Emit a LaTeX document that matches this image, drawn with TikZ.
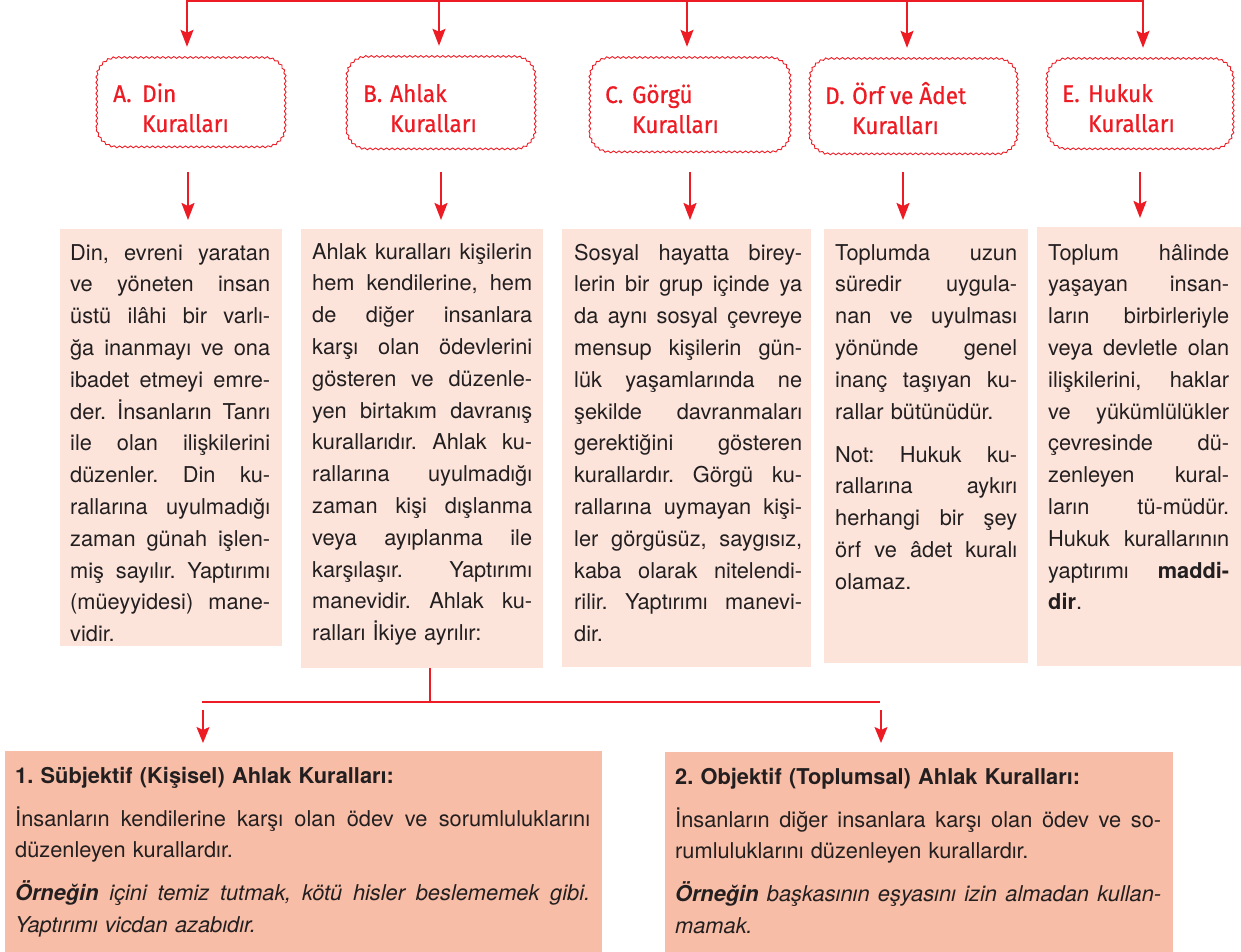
\documentclass[tikz,border=0pt]{standalone}
\usepackage{fontspec}
\setmainfont{TeX Gyre Heros}
\newfontfamily\hfont{Fira Sans}[FakeBold=0.6,FakeStretch=0.94]
\usetikzlibrary{decorations.pathmorphing,arrows.meta}
\definecolor{kred}{HTML}{ED1C24}
\definecolor{kpink}{HTML}{FCE4DB}
\definecolor{ksalmon}{HTML}{F8BDA6}
\definecolor{ktext}{HTML}{231F20}
\def\colw{200pt}
\newcommand\jl[1]{\hbox to \colw{\spaceskip=0.278em plus 1fil\relax #1}\par}
\newcommand\lastl[1]{\hbox{#1}\par}
\newcommand\pgap{\vspace{11.2pt}}
\frenchspacing
\begin{document}
\begin{tikzpicture}[x=1pt,y=-1pt,
  conn/.style={draw=kred, line width=2pt},
  thinconn/.style={draw=kred, line width=1.7pt},
  arr/.style={conn, -{Stealth[length=17pt,width=13pt,inset=3pt]}},
  thinarr/.style={thinconn, -{Stealth[length=16pt,width=13pt,inset=3pt]}},
  hshape/.style={draw=none, inner sep=0pt},
  wavy/.style={draw=kred, line width=0.9pt,
    decorate, decoration={snake, segment length=5.5pt, amplitude=0.9pt}},
  htext/.style={anchor=base west, inner sep=0pt, text=kred,
    font=\hfont\fontsize{24}{30}\selectfont},
  tbox/.style={fill=kpink, draw=none, anchor=north west, inner sep=0pt},
  sbox/.style={fill=ksalmon, draw=none, anchor=north west, inner sep=0pt},
  btext/.style={anchor=base west, inner sep=0pt, text=ktext,
    font=\frenchspacing\fontsize{21.8}{31.8}\selectfont},
]
\useasboundingbox (0,0) rectangle (1241,952);

% header boxes
\node[hshape, minimum width=188pt, minimum height=89pt] (hA) at (191,103.5) {};
\node[hshape, minimum width=188pt, minimum height=92pt] (hB) at (441,104) {};
\node[hshape, minimum width=200pt, minimum height=94pt] (hC) at (690,106) {};
\node[hshape, minimum width=207pt, minimum height=95pt] (hD) at (913.5,107.5) {};
\node[hshape, minimum width=186pt, minimum height=90pt] (hE) at (1140,105) {};
\foreach \h in {hA,hB,hC,hD,hE}
  \draw[wavy] (\h.south west) [rounded corners=20pt] rectangle (\h.north east) [sharp corners];

\node[htext] (hAt) at (113,102) {\makebox[29pt][l]{A.}\begin{tabular}[t]{@{}l@{}}Din\\Kuralları\end{tabular}};
\node[htext] (hBt) at (363,102) {\makebox[27pt][l]{B.}\begin{tabular}[t]{@{}l@{}}Ahlak\\Kuralları\end{tabular}};
\node[htext] (hCt) at (605,103) {\makebox[27pt][l]{C.}\begin{tabular}[t]{@{}l@{}}Görgü\\Kuralları\end{tabular}};
\node[htext] (hDt) at (825,104) {\makebox[27pt][l]{D.}\begin{tabular}[t]{@{}l@{}}Örf ve Âdet\\Kuralları\end{tabular}};
\node[htext] (hEt) at (1062,102) {\makebox[26pt][l]{E.}\begin{tabular}[t]{@{}l@{}}Hukuk\\Kuralları\end{tabular}};

% text boxes
\node[tbox, minimum width=222pt, minimum height=417pt] (bA) at (60,229) {};
\node[tbox, minimum width=242pt, minimum height=439pt] (bB) at (301,229) {};
\node[tbox, minimum width=249pt, minimum height=438pt] (bC) at (562,229) {};
\node[tbox, minimum width=204pt, minimum height=434pt] (bD) at (824,229) {};
\node[tbox, minimum width=204pt, minimum height=439pt] (bE) at (1037,227) {};

\node[btext, text width=200pt] (tA) at (70,260) {\def\colw{200pt}%
\jl{Din, evreni yaratan}
\jl{ve yöneten insan}
\jl{üstü ilâhi bir varlı-}
\jl{ğa inanmayı ve ona}
\jl{ibadet etmeyi emre-}
\jl{der. İnsanların Tanrı}
\jl{ile olan ilişkilerini}
\jl{düzenler. Din ku-}
\jl{rallarına uyulmadığı}
\jl{zaman günah işlen-}
\jl{miş sayılır. Yaptırımı}
\jl{(müeyyidesi) mane-}
\lastl{vidir.}};

\node[btext, text width=220pt] (tB) at (312,259) {\def\colw{220pt}%
\jl{Ahlak kuralları kişilerin}
\jl{hem kendilerine, hem}
\jl{de diğer insanlara}
\jl{karşı olan ödevlerini}
\jl{gösteren ve düzenle-}
\jl{yen birtakım davranış}
\jl{kurallarıdır. Ahlak ku-}
\jl{rallarına uyulmadığı}
\jl{zaman kişi dışlanma}
\jl{veya ayıplanma ile}
\jl{karşılaşır. Yaptırımı}
\jl{manevidir. Ahlak ku-}
\lastl{ralları İkiye ayrılır:}};

\node[btext, text width=228pt] (tC) at (574,260) {\def\colw{228pt}%
\jl{Sosyal hayatta birey-}
\jl{lerin bir grup içinde ya}
\jl{da aynı sosyal çevreye}
\jl{mensup kişilerin gün-}
\jl{lük yaşamlarında ne}
\jl{şekilde davranmaları}
\jl{gerektiğini gösteren}
\jl{kurallardır. Görgü ku-}
\jl{rallarına uymayan kişi-}
\jl{ler görgüsüz, saygısız,}
\jl{kaba olarak nitelendi-}
\jl{rilir. Yaptırımı manevi-}
\lastl{dir.}};

\node[btext, text width=182pt] (tD) at (835,260) {\def\colw{182pt}%
\jl{Toplumda uzun}
\jl{süredir uygula-}
\jl{nan ve uyulması}
\jl{yönünde genel}
\jl{inanç taşıyan ku-}
\lastl{rallar bütünüdür.}
\pgap
\jl{Not: Hukuk ku-}
\jl{rallarına aykırı}
\jl{herhangi bir şey}
\jl{örf ve âdet kuralı}
\lastl{olamaz.}};

\node[btext, text width=181pt] (tE) at (1048,260) {\def\colw{181pt}%
\jl{Toplum hâlinde}
\jl{yaşayan insan-}
\jl{ların birbirleriyle}
\jl{veya devletle olan}
\jl{ilişkilerini, haklar}
\jl{ve yükümlülükler}
\jl{çevresinde dü-}
\jl{zenleyen kural-}
\jl{ların tü-müdür.}
\jl{Hukuk kurallarının}
\jl{yaptırımı \textbf{maddi-}}
\lastl{\textbf{dir}.}};

% bottom boxes
\node[sbox, minimum width=597pt, minimum height=201pt] (sL) at (5,751) {};
\node[sbox, minimum width=508pt, minimum height=200pt] (sR) at (665,752) {};

\node[btext, text width=575pt] (tL) at (15,783) {\def\colw{575pt}%
\lastl{\textbf{1. Sübjektif (Kişisel) Ahlak Kuralları:}}
\pgap
\jl{İnsanların kendilerine karşı olan ödev ve sorumluluklarını}
\lastl{düzenleyen kurallardır.}
\pgap
\jl{\textbf{\textit{Örneğin}} \textit{içini temiz tutmak, kötü hisler beslememek gibi.}}
\lastl{\textit{Yaptırımı vicdan azabıdır.}}};

\node[btext, text width=486pt] (tR) at (675,784) {\def\colw{486pt}%
\lastl{\textbf{2. Objektif (Toplumsal) Ahlak Kuralları:}}
\pgap
\jl{İnsanların diğer insanlara karşı olan ödev ve so-}
\lastl{rumluluklarını düzenleyen kurallardır.}
\pgap
\jl{\textbf{\textit{Örneğin}} \textit{başkasının eşyasını izin almadan kullan-}}
\lastl{\textit{mamak.}}};

% top connectors
\coordinate (pA) at (187,1);
\coordinate (pB) at (439,1);
\coordinate (pC) at (687,1);
\coordinate (pD) at (907,1);
\coordinate (pE) at (1143,1);
\draw[conn] ([xshift=-1pt]pA) -- ([xshift=1pt]pE);
\foreach \p/\h in {pA/hA,pB/hB,pC/hC,pD/hD,pE/hE}
  \draw[arr, shorten >=12pt] (\p) -- (\p |- \h.north);

% header -> text arrows
\coordinate (sA) at (188,172);
\coordinate (sB) at (441,172);
\coordinate (sC) at (690,172);
\coordinate (sD) at (903,172);
\coordinate (sE) at (1140,172);
\foreach \s/\b in {sA/bA,sB/bB,sC/bC,sD/bD,sE/bE}
  \draw[arr, shorten >=9pt] (\s) -- (\s |- \b.north);

% lower connectors
\coordinate (jB) at (430,702);
\coordinate (jL) at (202,702);
\coordinate (jR) at (880,702);
\draw[thinconn] (bB.south -| jB) -- (jB);
\draw[thinconn] (jL) -- (jR);
\coordinate (aL) at (203,710);
\coordinate (aR) at (881,710);
\draw[thinarr, shorten >=8pt] (aL) -- (aL |- sL.north);
\draw[thinarr, shorten >=9pt] (aR) -- (aR |- sR.north);
\end{tikzpicture}
\end{document}
